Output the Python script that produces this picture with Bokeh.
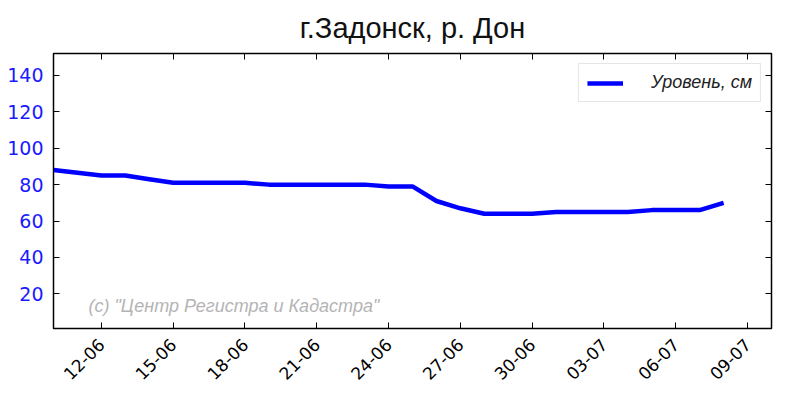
import math
from datetime import datetime
from bokeh.plotting import figure
from bokeh.models import (Range1d, FixedTicker, DatetimeTickFormatter, LinearAxis,
                          DatetimeAxis, Label, ColumnDataSource, CustomJSTickFormatter)
from bokeh.embed import file_html
from bokeh.resources import INLINE

# ---- data ----
dates = ["2013-06-10", "2013-06-11", "2013-06-12", "2013-06-13", "2013-06-14",
         "2013-06-15", "2013-06-16", "2013-06-17", "2013-06-18", "2013-06-19",
         "2013-06-20", "2013-06-21", "2013-06-22", "2013-06-23", "2013-06-24",
         "2013-06-25", "2013-06-26", "2013-06-27", "2013-06-28", "2013-06-29",
         "2013-06-30", "2013-07-01", "2013-07-02", "2013-07-03", "2013-07-04",
         "2013-07-05", "2013-07-06", "2013-07-07", "2013-07-08"]
levels = [88, 86.5, 85, 85, 83,
          81, 81, 81, 81, 80,
          80, 80, 80, 80, 79,
          79, 71, 67, 64, 64,
          64, 65, 65, 65, 65,
          66, 66, 66, 70]
tick_dates = ["2013-06-12", "2013-06-15", "2013-06-18", "2013-06-21", "2013-06-24",
              "2013-06-27", "2013-06-30", "2013-07-03", "2013-07-06", "2013-07-09"]
y_ticks = [20, 40, 60, 80, 100, 120, 140]
series_name = "Уровень, см"
title_text = "г.Задонск, р. Дон"
watermark = '(c) "Центр Регистра и Кадастра"'


def ms(s):
    d = datetime.strptime(s, "%Y-%m-%d")
    return (d - datetime(1970, 1, 1)).total_seconds() * 1000.0


xs = [ms(d) for d in dates]
x_ticks = [ms(d) for d in tick_dates]
src = ColumnDataSource(dict(x=xs, y=levels))

p = figure(width=800, height=400, output_backend="svg", toolbar_location=None,
           x_axis_type="datetime",
           x_range=Range1d(ms("2013-06-10"), ms("2013-07-10")),
           y_range=Range1d(1, 152),
           min_border_left=53, min_border_right=29, min_border_top=53,
           min_border_bottom=72, background_fill_color="white",
           border_fill_color="white")

p.title.text = title_text
p.title.align = "center"
p.title.vertical_align = "top"
p.title.text_font = "Liberation Sans"
p.title.text_font_size = "29px"
p.title.text_font_style = "normal"
p.title.text_color = "#111111"
p.title.standoff = 16

p.grid.visible = False
p.outline_line_color = "black"
p.outline_line_width = 1.5

# bottom axis
xa = p.xaxis[0]
xa.ticker = FixedTicker(ticks=x_ticks)
xa.formatter = DatetimeTickFormatter(days="%d-%m", months="%d-%m", hours="%d-%m")
xa.major_label_orientation = math.pi / 4
xa.major_label_text_font = "DejaVu Sans"
xa.major_label_text_font_size = "17px"
xa.major_label_text_color = "black"
xa.major_tick_in = 6
xa.major_tick_out = 0
xa.minor_tick_line_color = None
xa.axis_line_color = "black"
xa.major_label_standoff = 13

# left axis
ya = p.yaxis[0]
ya.ticker = FixedTicker(ticks=y_ticks)
ya.major_label_text_font = "DejaVu Sans"
ya.major_label_text_font_size = "19px"
ya.major_label_text_color = "#1a1aff"
ya.major_tick_in = 6
ya.major_tick_out = 0
ya.minor_tick_line_color = None
ya.axis_line_color = "black"
ya.major_label_standoff = 10

# top & right tick-only axes (no labels)
blank = CustomJSTickFormatter(code="return '';")
top = DatetimeAxis(ticker=FixedTicker(ticks=x_ticks), major_tick_in=6, major_tick_out=0,
                   minor_tick_line_color=None, formatter=blank,
                   axis_line_color="black", major_label_standoff=0)
p.add_layout(top, "above")
right = LinearAxis(ticker=FixedTicker(ticks=y_ticks), major_tick_in=6, major_tick_out=0,
                   minor_tick_line_color=None, formatter=blank,
                   axis_line_color="black", major_label_standoff=0)
p.add_layout(right, "right")

p.line("x", "y", source=src, line_color="#0000ff", line_width=4.5,
       legend_label=series_name)

lg = p.legend[0]
lg.location = "top_right"
lg.label_text_font = "Liberation Sans"
lg.label_text_font_style = "italic"
lg.label_text_font_size = "18px"
lg.label_text_color = "#222222"
lg.glyph_width = 36
lg.glyph_height = 16
lg.label_standoff = 28
lg.label_height = 16
lg.padding = 8
lg.margin = 10
lg.spacing = 0
lg.border_line_color = "#cccccc"
lg.border_line_width = 1

wm = Label(x=ms("2013-06-11") + 11 * 3600 * 1000, y=8, text=watermark,
           text_font="Liberation Sans", text_font_style="italic",
           text_font_size="18px", text_color="#b4b4b4")
p.add_layout(wm)

open("out.html", "w").write(file_html(p, INLINE))
